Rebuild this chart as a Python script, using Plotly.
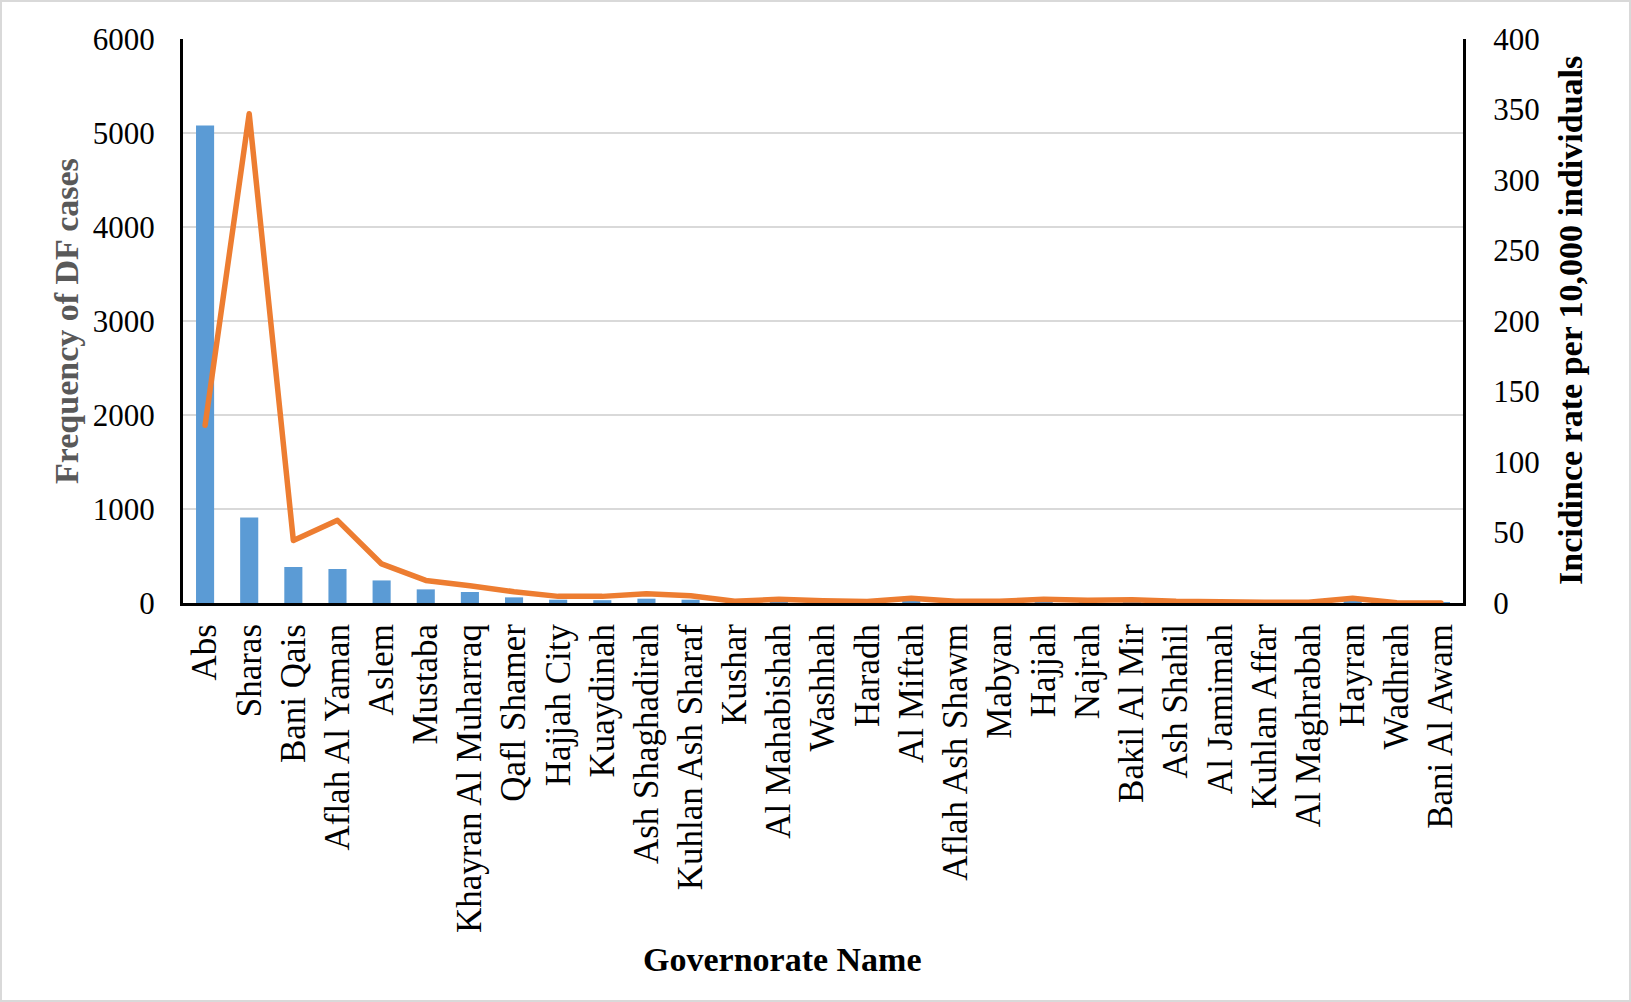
import plotly.graph_objects as go

categories = ["Abs", "Sharas", "Bani Qais", "Aflah Al Yaman", "Aslem", "Mustaba",
              "Khayran Al Muharraq", "Qafl Shamer", "Hajjah City", "Kuaydinah",
              "Ash Shaghadirah", "Kuhlan Ash Sharaf", "Kushar", "Al Mahabishah",
              "Washhah", "Haradh", "Al Miftah", "Aflah Ash Shawm", "Mabyan", "Hajjah",
              "Najrah", "Bakil Al Mir", "Ash Shahil", "Al Jamimah", "Kuhlan Affar",
              "Al Maghrabah", "Hayran", "Wadhrah", "Bani Al Awam"]

cases = [5080, 910, 383, 362, 240, 145, 117, 60, 35, 30, 46, 35,
         10, 15, 10, 12, 22, 8, 8, 12, 8, 10, 6, 4, 4, 3, 12, 2, 1]

incidence = [126, 347, 44.4, 58.6, 27.7, 16, 12.3, 8, 4.7, 4.7, 6.6, 5.2,
             1.2, 2.6, 1.6, 1.0, 3.3, 1.2, 1.2, 2.6, 1.9, 2.3, 1.2, 0.5, 0.5,
             0.5, 3.3, 0.2, 0.0]

left_ticks = [0, 1000, 2000, 3000, 4000, 5000, 6000]
right_ticks = [0, 50, 100, 150, 200, 250, 300, 350, 400]

W, H = 1631, 1002
ML, MR, MT, MB = 183, 168, 39, 399
PW = W - ML - MR
PH = H - MT - MB

def px(x):
    return (x - ML) / PW

def py(y):
    return (H - MB - y) / PH

FONT = "Times New Roman, Liberation Serif, serif"

fig = go.Figure()
fig.add_trace(go.Bar(x=categories, y=cases, marker=dict(color="#5B9BD5", line=dict(width=0)),
                     name="Frequency of DF cases", yaxis="y"))
fig.add_trace(go.Scatter(x=categories, y=incidence, mode="lines",
                         line=dict(color="#ED7D31", width=5.5),
                         name="Incidence rate", yaxis="y2"))

fig.update_layout(
    width=W, height=H,
    margin=dict(l=ML, r=MR, t=MT, b=MB),
    paper_bgcolor="white", plot_bgcolor="white",
    showlegend=False,
    bargap=0.59,
    font=dict(family=FONT, color="black"),
    xaxis=dict(
        type="category", range=[-0.5, len(categories) - 0.5],
        tickangle=-90, tickfont=dict(size=35, family=FONT, color="black"),
        showline=True, linecolor="black", linewidth=3,
        ticks="", showgrid=False, ticklabelstandoff=4,
        layer="below traces",
    ),
    yaxis=dict(
        range=[0, 6000], tickvals=left_ticks,
        tickfont=dict(size=31, family=FONT, color="black"),
        showline=True, linecolor="black", linewidth=3,
        showgrid=True, gridcolor="#D9D9D9", gridwidth=2,
        zeroline=False, ticks="", ticklabelstandoff=19,
        layer="below traces",
    ),
    yaxis2=dict(
        range=[0, 400], tickvals=right_ticks,
        tickfont=dict(size=31, family=FONT, color="black"),
        overlaying="y", side="right",
        showline=True, linecolor="black", linewidth=3,
        showgrid=False, zeroline=False, ticks="", ticklabelstandoff=21,
        layer="below traces",
    ),
    annotations=[
        dict(text="<b>Governorate Name</b>", x=px(782), y=py(960), xref="paper", yref="paper",
             xanchor="center", yanchor="middle", showarrow=False,
             font=dict(size=34, family=FONT, color="black")),
        dict(text="<b>Frequency of DF cases</b>", x=px(66), y=py(321), xref="paper", yref="paper",
             xanchor="center", yanchor="middle", showarrow=False, textangle=-90,
             font=dict(size=34, family=FONT, color="#595959")),
        dict(text="<b>Incidince rate per 10,000 individuals</b>", x=px(1570), y=py(321),
             xref="paper", yref="paper", xanchor="center", yanchor="middle",
             showarrow=False, textangle=-90,
             font=dict(size=34, family=FONT, color="black")),
    ],
    shapes=[
        dict(type="rect", xref="paper", yref="paper",
             x0=px(1), x1=px(W - 1), y0=py(H - 1), y1=py(1),
             line=dict(color="#D9D9D9", width=2), fillcolor="rgba(0,0,0,0)", layer="below"),
    ],
)

post = (
    "document.body.style.margin='0';"
    "document.body.style.overflow='hidden';"
    "var s=document.createElement('style');"
    "s.innerHTML='.scatterlayer path.js-line{stroke-linejoin:round;stroke-linecap:round;}';"
    "document.head.appendChild(s);"
)

fig.write_html("out.html", post_script=post, config={"displayModeBar": False})
